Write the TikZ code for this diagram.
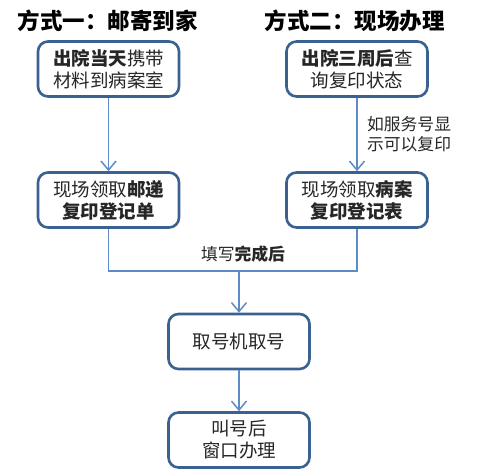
\documentclass[tikz,border=0pt]{standalone}
\usepackage{fontspec}
\setmainfont{Noto Sans CJK SC}
\usetikzlibrary{arrows.meta}
\definecolor{boxblue}{HTML}{3B6190}
\definecolor{lineblue}{HTML}{5B8CC8}
\definecolor{txt}{HTML}{262626}
\tikzset{
  stepbox/.style={draw=boxblue, line width=2.6pt, rounded corners=10pt, fill=white,
    minimum width=141pt, minimum height=55pt, align=center, text=txt,
    font=\fontsize{18.5}{22}\selectfont, inner sep=2pt},
  conn/.style={draw=lineblue, line width=1.5pt},
  arr/.style={conn, -{Straight Barb[length=9pt, width=15pt, line width=1.5pt]}},
  ttl/.style={font=\fontsize{22.5}{26}\selectfont\bfseries, text=black},
  lbl/.style={font=\fontsize{16.8}{20}\selectfont, text=txt, align=left},
}
\begin{document}
\begin{tikzpicture}[x=1pt, y=-1pt]
\useasboundingbox (0,0) rectangle (479,475);
\node[ttl] (t1) at (107.5,21) {方式一：邮寄到家};
\node[ttl] (t2) at (354.5,21) {方式二：现场办理};
\node[stepbox] (b1) at (108.5,69) {\textbf{出院当天}携带\\材料到病案室};
\node[stepbox] (b2) at (357,69) {\textbf{出院三周后}查\\询复印状态};
\node[stepbox] (b3) at (108.5,200) {现场领取\textbf{邮递}\\\textbf{复印登记单}};
\node[stepbox] (b4) at (357,200) {现场领取\textbf{病案}\\\textbf{复印登记表}};
\node[stepbox] (b5) at (239,341.5) {取号机取号};
\node[stepbox] (b6) at (239,440) {叫号后\\窗口办理};
\coordinate (m) at (239,271);
\draw[arr] (b1.south) -- (b3.north);
\draw[arr] (b2.south) -- node[lbl, right=6pt] (l1) {如服务号显\\示可以复印} (b4.north);
\draw[conn] (b3.south) |- (m);
\draw[conn] (b4.south) |- (m);
\node[lbl] (l2) at (243,254) {填写\textbf{完成后}};
\draw[arr] (m) -- (b5.north);
\draw[arr] (b5.south) -- (b6.north);
\end{tikzpicture}
\end{document}
